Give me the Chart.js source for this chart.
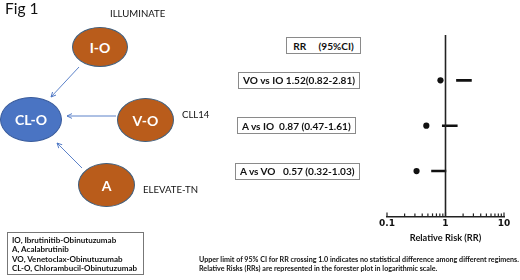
<!DOCTYPE html>
<html>
<head>
<meta charset="utf-8">
<script src="https://cdn.jsdelivr.net/npm/chart.js@4/dist/chart.umd.min.js"></script>
<style>
  html, body { margin: 0; padding: 0; background: #fff; }
  #wrap { position: relative; width: 520px; height: 280px; overflow: hidden; font-family: Lato, "Open Sans", sans-serif; color: #111; }
  #plot { position: absolute; left: 0; top: 0; }
  .abs { position: absolute; white-space: pre; line-height: 1; }
  .oval { position: absolute; border-radius: 50%; display: flex; align-items: center; justify-content: center;
          color: #fff; font-weight: 700; font-size: 14px; box-sizing: border-box; border: 1px solid #41607f; }
  .brown { background: #b95c1b; }
  .blue { background: #4a74c3; border-color: #3a5c9c; }
  .box { position: absolute; border: 1px solid #8a8a8a; background: #fff; font-weight: 700; font-size: 10.1px;
         white-space: pre; box-sizing: border-box; display: flex; align-items: center; padding: 0 4px; }
  #abbr { position: absolute; left: 7px; top: 232px; width: 137px; height: 43px; border: 1px solid #777; white-space: pre;
          box-sizing: border-box; font-weight: 700; font-size: 8.0px; line-height: 9.4px; padding: 3px 0 0 4px; }
  #note { position: absolute; left: 199px; top: 256px; font-weight: 700; font-size: 7.15px; line-height: 8.5px; white-space: pre; }
</style>
</head>
<body>
<div id="wrap">
  <canvas id="plot" width="520" height="280"></canvas>

  <div class="abs" style="left:5px;top:1px;font-size:15.5px;">Fig 1</div>
  <div class="abs" style="left:110px;top:8.5px;font-size:9.6px;">ILLUMINATE</div>
  <div class="abs" style="left:182px;top:110px;font-size:9.6px;">CLL14</div>
  <div class="abs" style="left:143px;top:184.5px;font-size:9.6px;">ELEVATE-TN</div>

  <svg class="abs" width="520" height="280" style="left:0;top:0;">
    <defs>
      <marker id="head" markerWidth="6" markerHeight="6" refX="5" refY="3" orient="auto" markerUnits="userSpaceOnUse">
        <path d="M0,0.6 L5,3 L0,5.4" fill="none" stroke="#4a74c3" stroke-width="0.9"/>
      </marker>
    </defs>
    <line x1="79" y1="67" x2="51" y2="97" stroke="#4a74c3" stroke-width="0.9" marker-end="url(#head)"/>
    <line x1="116" y1="116" x2="67" y2="116" stroke="#4a74c3" stroke-width="0.9" marker-end="url(#head)"/>
    <line x1="82" y1="168" x2="57" y2="143" stroke="#4a74c3" stroke-width="0.9" marker-end="url(#head)"/>
  </svg>

  <div class="oval brown" style="left:72px;top:27px;width:56px;height:40px;">I-O</div>
  <div class="oval blue"  style="left:0px;top:97px;width:62px;height:45px;">CL-O</div>
  <div class="oval brown" style="left:117px;top:98px;width:57px;height:44px;">V-O</div>
  <div class="oval brown" style="left:78px;top:163px;width:57px;height:44px;">A</div>

  <div class="box" style="left:286px;top:37px;width:75px;height:17px;justify-content:center;">RR     (95%CI)</div>
  <div id="rows"></div>

  <div id="abbr">IO, Ibrutinitib-Obinutuzumab
A, Acalabrutinib
VO, Venetoclax-Obinutuzumab
CL-O, Chlorambucil-Obinutuzumab</div>

  <div id="note">Upper limit of 95% CI for RR crossing 1.0 indicates no statistical difference among different regimens.
Relative Risks (RRs) are represented in the forester plot in logarithmic scale.</div>
</div>

<script>
// Pairwise comparisons: relative risk with 95% confidence interval
const comparisons = ['VO vs IO', 'A vs IO', 'A vs VO'];
const relativeRisk = [1.52, 0.87, 0.57];
const lowerCI = [0.82, 0.47, 0.32];
const upperCI = [2.81, 1.61, 1.03];

// Log axis: marks at every unit of each decade, labels only at decades
const axisTicks = [0.1, 0.2, 0.3, 0.4, 0.5, 0.6, 0.7, 0.8, 0.9, 1, 2, 3, 4, 5, 6, 7, 8, 9, 10];
const tickLabels = [0.1, 1, 10];
const referenceValue = 1;

document.fonts.ready.then(draw);

function draw() {
  const ink = '#111';
  const rowY = comparisons.map((_, i) => i + 1);

  const datasets = [];
  // line of no effect
  datasets.push({
    type: 'line',
    data: [{ x: referenceValue, y: 0 }, { x: referenceValue, y: comparisons.length + 1 }],
    borderColor: '#222', borderWidth: 1.6, pointRadius: 0
  });
  // interval segments, from the estimate to the upper limit
  comparisons.forEach((_, i) => {
    datasets.push({
      type: 'line',
      data: [{ x: relativeRisk[i], y: rowY[i] }, { x: upperCI[i], y: rowY[i] }],
      borderColor: ink, borderWidth: 2.6, pointRadius: 0, borderCapStyle: 'butt'
    });
  });
  // points at the lower limit
  datasets.push({
    type: 'scatter',
    data: comparisons.map((_, i) => ({ x: lowerCI[i], y: rowY[i] })),
    backgroundColor: ink, borderColor: ink, pointRadius: 3.1, pointBorderWidth: 0
  });

  const tickMarks = {
    id: 'tickMarks',
    afterDraw(chart) {
      const sx = chart.scales.x;
      const ctx = chart.ctx;
      const yb = chart.chartArea.bottom;
      ctx.save();
      ctx.strokeStyle = '#222';
      ctx.lineWidth = 1.2;
      axisTicks.forEach(v => {
        const px = sx.getPixelForValue(v);
        const len = tickLabels.includes(v) ? 4 : 3;
        ctx.beginPath();
        ctx.moveTo(px, yb);
        ctx.lineTo(px, yb - len);
        ctx.stroke();
      });
      ctx.restore();
    }
  };

  const chart = new Chart(document.getElementById('plot'), {
    type: 'scatter',
    data: { datasets },
    plugins: [tickMarks],
    options: {
      responsive: false,
      animation: false,
      devicePixelRatio: 1,
      layout: { padding: { left: 387, right: 16, top: 35, bottom: 37.5 } },
      plugins: { legend: { display: false }, tooltip: { enabled: false } },
      scales: {
        x: {
          type: 'logarithmic',
          min: 0.1, max: 10,
          position: 'bottom',
          afterBuildTicks: s => { s.ticks = axisTicks.map(v => ({ value: v })); },
          grid: { display: false, drawTicks: false },
          border: { display: true, color: '#222', width: 1.5 },
          ticks: {
            autoSkip: false, maxRotation: 0, padding: 2,
            color: ink,
            font: { family: 'DejaVu Sans', weight: 'bold', size: 9, lineHeight: 1.1 },
            callback: v => tickLabels.includes(v) ? String(v) : ''
          },
          title: {
            display: true, text: 'Relative Risk (RR)', color: ink,
            font: { family: 'Lato', weight: 'bold', size: 9.2, lineHeight: 1 },
            padding: { top: 3, bottom: 0 }
          }
        },
        y: {
          type: 'linear', min: 0, max: comparisons.length + 1, reverse: true, display: false
        }
      }
    }
  });

  // comparison boxes, aligned to the plot rows
  const fmt = v => v.toFixed(2);
  const boxLeft = [238, 237, 235];
  const host = document.getElementById('rows');
  comparisons.forEach((name, i) => {
    const el = document.createElement('div');
    el.className = 'box';
    const gap = i === 0 ? ' ' : (i === 1 ? '  ' : '   ');
    const sep = i === 0 ? '' : ' ';
    el.textContent = name + gap + fmt(relativeRisk[i]) + sep + '(' + fmt(lowerCI[i]) + '-' + fmt(upperCI[i]) + ')';
    const cy = chart.scales.y.getPixelForValue(rowY[i]);
    el.style.left = boxLeft[i] + 'px';
    el.style.top = (cy - 8.5) + 'px';
    el.style.height = '17px';
    host.appendChild(el);
  });
}
</script>
</body>
</html>
